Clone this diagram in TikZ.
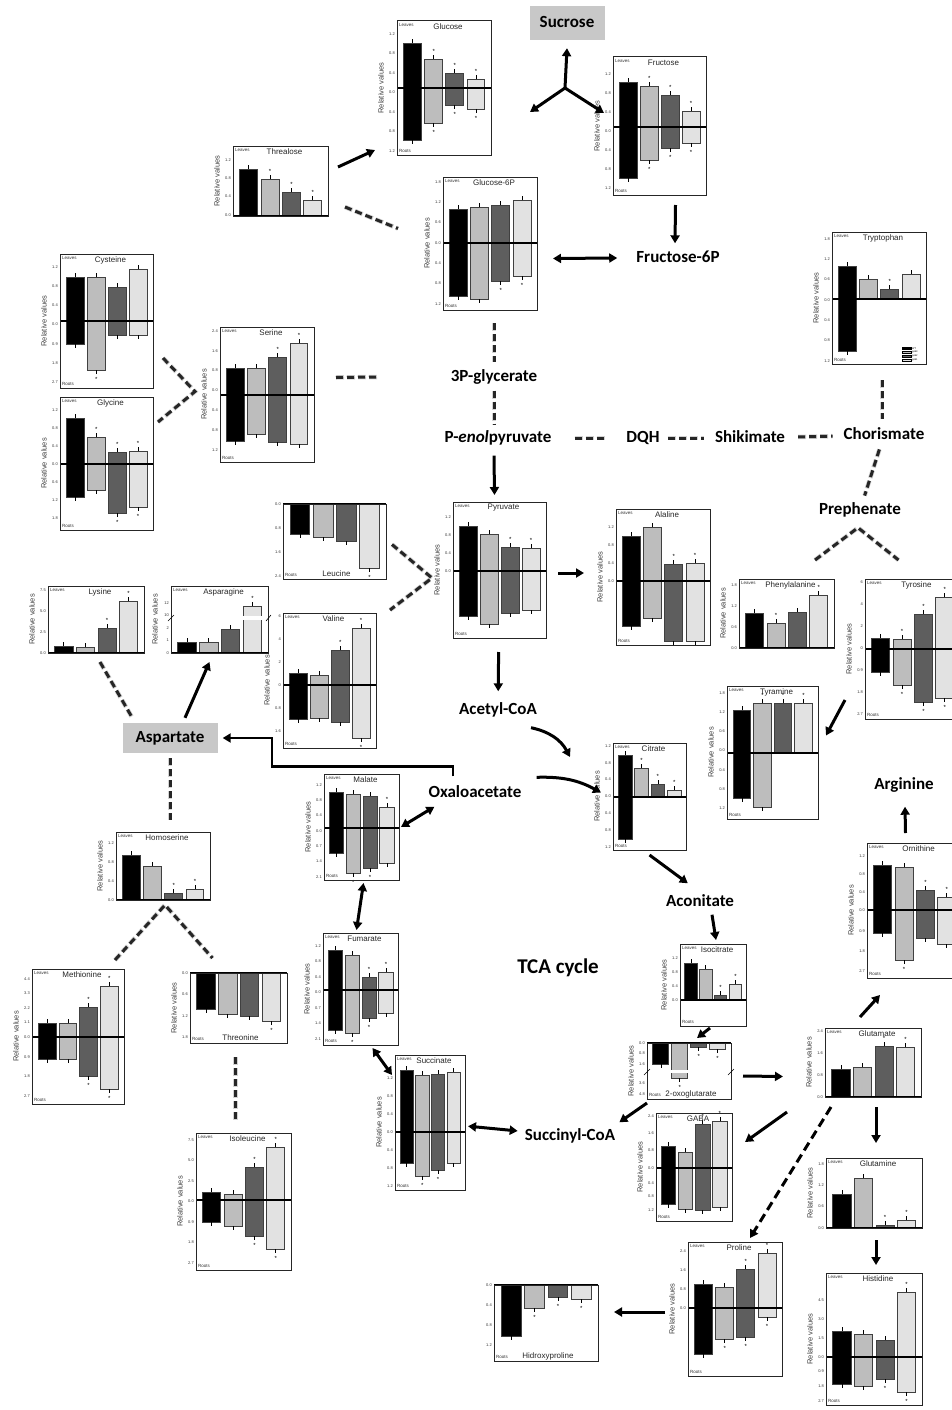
\documentclass[tikz,border=0pt]{standalone}
\usepackage{fontspec}
\setmainfont{Carlito}
\newfontfamily\chartfont{Liberation Sans}
\usetikzlibrary{arrows.meta, calc}

\colorlet{bar1}{black}
\definecolor{bar2}{HTML}{BDBDBD}
\definecolor{bar3}{HTML}{5E5E5E}
\definecolor{bar4}{HTML}{E2E2E2}
\definecolor{hubgray}{HTML}{C8C8C8}

\tikzset{
  chartframe/.style={draw=black!85, line width=1pt, inner sep=0pt, outer sep=0pt},
  barbox/.style={draw=black!75, line width=0.8pt},
  errbar/.style={line width=0.7pt},
  zeroline/.style={line width=1.3pt},
  star/.style={font=\chartfont\fontsize{6}{6}\selectfont, inner sep=0pt},
  tinylab/.style={font=\chartfont\fontsize{4.5}{5}\selectfont, inner sep=0pt, text=black!80},
  ticklab/.style={font=\chartfont\fontsize{4}{4}\selectfont, inner sep=0pt, anchor=east, text=black!80},
  ctitle/.style={font=\chartfont\fontsize{8}{9}\selectfont, inner sep=0pt, text=black!85},
  ylab/.style={font=\chartfont\fontsize{7.5}{8}\selectfont, rotate=90, inner sep=0pt, text=black!75},
  metab/.style={font=\bfseries\fontsize{17}{19}\selectfont, inner sep=1pt, text height=12pt, text depth=3pt},
  hub/.style={metab, fill=hubgray},
  flow/.style={line width=3pt, -{Triangle[length=8pt,width=9pt]}},
  twoway/.style={line width=3pt, {Triangle[length=8pt,width=9pt]}-{Triangle[length=8pt,width=9pt]}},
  bypass/.style={line width=3pt, dash pattern=on 9pt off 5pt, -{Triangle[length=8pt,width=9pt]}},
  pathdash/.style={line width=3pt, draw=black!85, dash pattern=on 7pt off 4pt,
    preaction={draw=gray!35, line width=4.5pt, dash pattern=on 8pt off 3pt}}
}

% mode: 0 leaves+roots, 1 leaves only, 2 roots + title below, 3 as 2 without axis label
\newcommand{\barchart}[9][0]{%
  \foreach \vt/\vb/\vs [count=\k] in {#9}{%
    \pgfmathsetmacro{\xl}{#3+(#5-#3)*(0.07+0.225*(\k-1))}%
    \pgfmathsetmacro{\xr}{\xl+(#5-#3)*0.19}%
    \pgfmathsetmacro{\xc}{(\xl+\xr)/2}%
    \draw[barbox, fill=bar\k] (\xl,\vt) rectangle (\xr,\vb);
    \ifdim\vt pt<#7pt \draw[errbar] ({\xc},{\vt}) -- ({\xc},{\vt-4}); \fi
    \ifdim\vb pt>#7pt \draw[errbar] ({\xc},{\vb}) -- ({\xc},{\vb+4}); \fi
    \ifodd\vs\relax \node[star] at ({\xc},{\vt-8}) {*}; \fi
    \ifnum\vs>1\relax \node[star] at ({\xc},{\vb+9}) {*}; \fi
  }
  \draw[zeroline] (#3,#7) -- (#5,#7);
  \node[chartframe, minimum width={(#5-#3)*1pt}, minimum height={(#6-#4)*1pt}] (#2) at ({(#3+#5)/2},{(#4+#6)/2}) {};
  \ifcase#1\relax
    \node[tinylab, anchor=north west] at ({#3+2},{#4+2}) {Leaves};
    \node[tinylab, anchor=south west] at ({#3+2},{#6-2}) {Roots};
    \node[ctitle] at ({(#3+#5)/2+4},{#4+6}) {#8};
    \node[ylab] at ({#3-16},{(#4+#6)/2}) {Relative values};
  \or
    \node[tinylab, anchor=north west] at ({#3+2},{#4+2}) {Leaves};
    \node[ctitle] at ({(#3+#5)/2+4},{#4+6}) {#8};
    \node[ylab] at ({#3-16},{(#4+#6)/2}) {Relative values};
  \or
    \node[tinylab, anchor=south west] at ({#3+2},{#6-2}) {Roots};
    \node[ctitle] at ({(#3+#5)/2+2},{#6-5}) {#8};
    \node[ylab] at ({#3-16},{(#4+#6)/2}) {Relative values};
  \or
    \node[tinylab, anchor=south west] at ({#3+2},{#6-2}) {Roots};
    \node[ctitle] at ({(#3+#5)/2+2},{#6-5}) {#8};
  \fi
}

% tick labels: x, first y, step, labels
\newcommand{\yticks}[4]{%
  \foreach \lab [count=\k from 0] in {#4}
    \node[ticklab] at ({#1},{#2+\k*#3}) {\lab};
}

\begin{document}
\begin{tikzpicture}[x=1pt, y=-1pt]
\useasboundingbox (0,0) rectangle (952,1410);

% metabolites
\node[hub, minimum width=75pt, minimum height=34pt] (sucrose) at (567,23) {Sucrose};
\node[metab] (fru6p) at (678,258) {Fructose-6P};
\node[metab] (glycerate) at (494,377) {3P-glycerate};
\node[metab] (pep) at (498,438) {P-\textit{enol}pyruvate};
\node[metab] (dqh) at (643,438) {DQH};
\node[metab] (shikimate) at (750,438) {Shikimate};
\node[metab] (chorismate) at (884,435) {Chorismate};
\node[metab] (prephenate) at (860,510) {Prephenate};
\node[metab] (acetylcoa) at (498,710) {Acetyl-CoA};
\node[hub, minimum width=95pt, minimum height=30pt] (aspartate) at (170,738) {Aspartate};
\node[metab] (oxaloacetate) at (475,793) {Oxaloacetate};
\node[metab] (arginine) at (904,785) {Arginine};
\node[metab] (aconitate) at (700,902) {Aconitate};
\node[font=\bfseries\fontsize{21}{24}\selectfont] (tca) at (558,968) {TCA cycle};
\node[metab] (succinylcoa) at (570,1136) {Succinyl-CoA};

% charts
\barchart{glucose}{397}{21}{491}{155}{88}{Glucose}{43/140/0,59/123/3,73/105/3,79/109/3}
\yticks{395}{34}{19.5}{1.2,0.8,0.4,0.0,0.4,0.8,1.2}
\barchart[1]{threalose}{233}{146}{328}{216}{216}{Threalose}{169/216/0,179/216/1,192/216/1,200/216/1}
\yticks{231}{160}{18.3}{1.2,0.8,0.4,0.0}
\barchart{glucosesix}{443}{177}{537}{310}{243}{Glucose-6P}{209/296/0,207/299/0,205/281/2,200/276/2}
\yticks{441}{182}{20.3}{1.8,1.2,0.6,0.0,0.4,0.8,1.2}
\barchart{fructose}{613}{57}{706}{195}{127}{Fructose}{82/178/0,86/160/3,95/148/3,111/143/3}
\yticks{611}{74}{19}{1.2,0.8,0.4,0.0,0.4,0.8,1.2}
\barchart{tryptophan}{832}{232}{926}{364}{299}{Tryptophan}{266/351/0,279/299/0,289/299/1,274/299/0}
\yticks{830}{239}{20.3}{1.8,1.2,0.6,0.0,0.4,0.8,1.2}
\foreach \lab [count=\k] in {WT,gsb3,gsb2,gsb1}{
  \draw[fill=bar\k, line width=0.3pt] (902,{343+\k*4}) rectangle (911,{345.5+\k*4});
  \node[anchor=west, inner sep=0pt, font=\chartfont\fontsize{2.5}{3}\selectfont] at (912,{344.3+\k*4}) {\lab};
}
\barchart{cysteine}{60}{254}{153}{388}{321}{Cysteine}{277/344/0,277/370/2,287/335/0,269/335/0}
\yticks{58}{267}{19.2}{1.2,0.8,0.4,0.0,0.9,1.8,2.7}
\barchart{serine}{220}{327}{314}{462}{395}{Serine}{368/441/0,368/434/0,357/442/1,343/444/1}
\yticks{218}{331}{19.8}{2.4,1.6,0.8,0.0,0.4,0.8,1.2}
\barchart{glycine}{60}{397}{153}{530}{464}{Glycine}{418/497/0,437/490/1,452/513/3,451/507/3}
\yticks{58}{410}{18}{1.2,0.8,0.4,0.0,0.6,1.2,1.8}
\barchart[3]{leucine}{283}{504}{386}{579}{504}{Leucine}{504/534/0,504/537/0,504/541/0,504/568/2}
\yticks{281}{504}{24}{0.0,0.8,1.6,2.4}
\barchart[1]{lysine}{48}{586}{144}{653}{653}{Lysine}{646/653/0,647/653/0,628/653/1,601/653/1}
\yticks{46}{590}{21}{7.5,5.0,2.5,0.0}
\barchart[1]{asparagine}{171}{586}{268}{653}{653}{Asparagine}{642/653/0,642/653/0,629/653/0,606/653/1}
\yticks{169}{603}{12.5}{12,10,2,1,0}
\fill[white] (242,616) rectangle (263,620);
\draw[line width=0.6pt] (168,621) -- (174,615) (266,621) -- (271,615);
\barchart{valine}{283}{613}{376}{748}{685}{Valine}{673/719/0,675/718/0,650/722/1,628/738/3}
\yticks{281}{616}{23}{6,4,2,0,0.8,1.6}
\barchart{pyruvate}{453}{502}{546}{638}{571}{Pyruvate}{526/616/0,534/624/0,547/613/1,548/610/1}
\yticks{451}{517}{18}{1.2,0.8,0.4,0.0}
\barchart{alaline}{616}{509}{710}{645}{581}{Alaline}{536/626/0,527/618/0,564/641/1,563/641/1}
\yticks{614}{527}{18}{1.2,0.8,0.4,0.0}
\barchart[1]{phenylalanine}{739}{579}{834}{648}{648}{Phenylalanine}{613/648/0,623/648/1,612/648/0,595/648/1}
\yticks{737}{585}{21}{1.8,1.2,0.6,0.0}
\barchart{tyrosine}{865}{579}{960}{719}{649}{Tyrosine}{638/672/0,639/685/3,614/702/3,597/698/3}
\yticks{863}{582}{22}{6,4,2,0,0.9,1.8,2.7}
\barchart{tyramine}{727}{686}{818}{819}{753}{Tyramine}{710/798/0,703/807/1,703/753/1,703/753/1}
\yticks{725}{693}{19.2}{1.8,1.2,0.6,0.0,0.4,0.8,1.2}
\barchart{citrate}{613}{743}{686}{850}{797}{Citrate}{755/839/0,768/797/1,784/797/1,790/797/1}
\yticks{611}{746}{16.8}{1.2,0.8,0.4,0.0,0.4,0.8,1.2}
\barchart{malate}{324}{774}{399}{880}{828}{Malate}{792/853/0,794/873/2,796/868/2,807/863/1}
\yticks{322}{785}{15.3}{1.2,0.8,0.4,0.0,0.7,1.4,2.1}
\barchart[1]{homoserine}{116}{832}{210}{900}{900}{Homoserine}{855/900/0,866/900/0,893/900/1,889/900/1}
\yticks{114}{843}{19}{1.2,0.8,0.4,0.0}
\barchart{fumarate}{323}{933}{398}{1045}{990}{Fumarate}{950/1030/0,955/1033/2,977/1018/3,972/1013/1}
\yticks{321}{946}{15.5}{1.2,0.8,0.4,0.0,0.7,1.4,2.1}
\barchart{methionine}{32}{969}{124}{1104}{1037}{Methionine}{1023/1059/0,1023/1059/0,1007/1076/3,986/1089/3}
\yticks{30}{979}{14.5}{4.4,3.3,2.2,1.1,0.0}
\yticks{30}{1057}{19.5}{0.9,1.8,2.7}
\barchart[2]{threonine}{190}{973}{287}{1043}{973}{Threonine}{973/1009/0,973/1014/0,973/1016/0,973/1021/2}
\yticks{188}{973}{21.3}{0.0,0.6,1.2,1.8}
\barchart{isoleucine}{196}{1133}{291}{1270}{1200}{Isoleucine}{1192/1222/0,1194/1226/0,1167/1236/3,1147/1249/3}
\yticks{194}{1140}{20.5}{7.5,5.0,2.5,0.0,0.9,1.8,2.7}
\barchart{succinate}{395}{1055}{465}{1190}{1132}{Succinate}{1070/1163/0,1075/1176/2,1074/1170/2,1072/1163/0}
\yticks{393}{1078}{18}{1.2,0.8,0.4,0.0,0.4,0.8,1.2}
\barchart{isocitrate}{680}{944}{746}{1026}{1000}{Isocitrate}{963/1000/0,969/1000/0,995/1000/1,984/1000/1}
\yticks{678}{958}{14}{1.2,0.8,0.4,0.0}
\barchart[2]{oxoglutarate}{647}{1043}{731}{1099}{1043}{2-oxoglutarate}{1043/1064/0,1043/1078/2,1043/1047/2,1043/1049/2}
\yticks{645}{1043}{10.5}{0.0,0.8,1.6}
\yticks{645}{1083}{11}{3.6,4.8}
\fill[white] (671,1069.5) rectangle (689,1073);
\draw[line width=0.6pt] (644,1075) -- (650,1069) (728,1075) -- (734,1069);
\barchart{gaba}{656}{1113}{732}{1221}{1168}{GABA}{1146/1204/0,1152/1209/0,1124/1210/1,1121/1207/1}
\yticks{654}{1116}{17.3}{2.4,1.6,0.8,0.0}
\yticks{654}{1183}{13.5}{0.4,0.8,1.2}
\barchart{ornithine}{867}{843}{962}{978}{910}{Ornithine}{865/933/0,867/960/2,890/938/1,897/944/1}
\yticks{865}{856}{18}{1.2,0.8,0.4,0.0}
\yticks{865}{931}{20}{0.9,1.8,2.7}
\barchart[1]{glutamate}{825}{1028}{921}{1097}{1097}{Glutamate}{1069/1097/0,1067/1097/0,1046/1097/1,1047/1097/1}
\yticks{823}{1031}{22}{2.4,1.6,0.8,0.0}
\barchart[1]{glutamine}{826}{1158}{922}{1228}{1228}{Glutamine}{1194/1228/0,1178/1228/0,1225/1228/1,1220/1228/1}
\yticks{824}{1164}{21.3}{1.8,1.2,0.6,0.0}
\barchart{histidine}{826}{1273}{922}{1405}{1357}{Histidine}{1331/1384/0,1334/1386/0,1340/1379/2,1292/1392/3}
\yticks{824}{1300}{19}{4.5,3.0,1.5,0.0}
\yticks{824}{1371}{15}{0.9,1.8,2.7}
\barchart{proline}{688}{1242}{782}{1376}{1308}{Proline}{1284/1354/0,1287/1339/2,1269/1337/3,1253/1317/3}
\yticks{686}{1251}{19}{2.4,1.6,0.8,0.0}
\barchart[3]{hidroxyproline}{494}{1285}{598}{1361}{1285}{Hidroxyproline}{1285/1336/0,1285/1308/2,1285/1297/2,1285/1299/2}
\yticks{492}{1285}{20}{0.0,0.4,0.8,1.2}

% sugars
\coordinate (sucjoin) at (565,88);
\draw[flow] (sucjoin) -- ([yshift=-8]sucrose.south);
\draw[flow] (sucjoin) -- ([xshift=39,yshift=-24]glucose.east);
\draw[flow] (sucjoin) -- ([xshift=-9,yshift=13]fructose.west);
\draw[flow] ([xshift=10,yshift=14]threalose.east) -- ([xshift=-22,yshift=5]glucose.south west);
\draw[pathdash] ([xshift=17,yshift=9]threalose.south east) -- ([xshift=-45,yshift=15]glucosesix.west);
\draw[flow] ([xshift=16,yshift=-10]fructose.south) -- ([xshift=-3,yshift=6]fru6p.north);
\draw[twoway] ([xshift=16,yshift=-15]glucosesix.east) -- ([xshift=-18]fru6p.west);

% glycolysis and amino acids
\draw[pathdash] ([xshift=4,yshift=-13]glucosesix.south) -- ([yshift=6]glycerate.north);
\draw[pathdash] ([yshift=-5]glycerate.south) -- ([xshift=-4,yshift=5]pep.north);
\draw[pathdash] ([xshift=22,yshift=17]serine.east) -- ([xshift=-72]glycerate.west);
\draw[pathdash] ([xshift=10,yshift=30]cysteine.south east) -- ([xshift=-25,yshift=3]serine.west) -- ([xshift=5,yshift=-25]glycine.north east);
\draw[pathdash, shorten <=22pt, shorten >=18pt] (pep) -- (dqh);
\draw[pathdash, shorten <=7pt, shorten >=10pt] (dqh) -- (shikimate);
\draw[pathdash, shorten <=12pt, shorten >=10pt] (shikimate) -- (chorismate);
\draw[pathdash] ([xshift=3,yshift=-16]tryptophan.south) -- ([xshift=-2,yshift=7]chorismate.north);
\draw[pathdash, shorten <=6pt, shorten >=6pt] (chorismate) -- (prephenate);
\draw[pathdash] ([xshift=-19,yshift=19]phenylalanine.north east) -- ([xshift=-2,yshift=-9]prephenate.south) -- ([xshift=-14,yshift=19]tyrosine.north);
\draw[flow] ([xshift=-20,yshift=-51]tyrosine.west) -- ([xshift=8,yshift=17]tyramine.east);
\draw[flow] ([xshift=-4,yshift=-9]pep.south) -- ([xshift=-5,yshift=7]pyruvate.north);
\draw[flow] ([xshift=12,yshift=-3]pyruvate.east) -- ([xshift=-32,yshift=4]alaline.west);
\draw[flow, shorten <=14pt, shorten >=10pt] (pyruvate) -- (acetylcoa);
\draw[pathdash] ([xshift=6,yshift=-3]leucine.east) -- ([xshift=-21,yshift=-8]pyruvate.west) -- ([xshift=14,yshift=3]valine.north east);

% aspartate family
\draw[flow, line width=2.5pt, shorten >=5pt] ([xshift=-22,yshift=8]oxaloacetate.north) -- ++(0,-10) -- ++(-181,0) |- (aspartate.east);
\draw[flow] ([xshift=15,yshift=5]aspartate.north) -- ([xshift=-10,yshift=-9]asparagine.south);
\draw[pathdash] ([xshift=4,yshift=-9]lysine.south) -- ([xshift=10,yshift=5]aspartate.north west);
\draw[pathdash] ([yshift=-5]aspartate.south) -- ([xshift=7,yshift=12]homoserine.north);
\draw[pathdash] ([xshift=-9,yshift=9]methionine.north east) -- ([xshift=2,yshift=-5]homoserine.south) -- ([xshift=-26,yshift=15]threonine.north);
\draw[pathdash] ([xshift=-3,yshift=-14]threonine.south) -- ([xshift=-8,yshift=11]isoleucine.north);

% TCA cycle
\draw[flow] ([xshift=-7,yshift=-9]acetylcoa.south east) to[bend left=25] ([xshift=-43,yshift=-14]citrate.north west);
\draw[flow] ([xshift=14,yshift=7]oxaloacetate.north east) to[bend left=15] ([xshift=-12,yshift=4]citrate.west);
\draw[twoway] ([xshift=2]malate.east) -- ([xshift=7,yshift=-5]oxaloacetate.south west);
\draw[twoway] ([xshift=2,yshift=-3]malate.south) -- ([xshift=-4,yshift=3]fumarate.north);
\draw[twoway] ([xshift=12,yshift=-3]fumarate.south) -- ([xshift=-3,yshift=-20]succinate.north west);
\draw[twoway, shorten <=3pt, shorten >=6pt] (succinate) -- (succinylcoa);
\draw[flow] ([yshift=-5]citrate.south) -- ([xshift=23,yshift=10]aconitate.north west);
\draw[flow] ([xshift=12,yshift=-4]aconitate.south) -- ([xshift=3,yshift=4]isocitrate.north);
\draw[flow] ([xshift=-3,yshift=-2]isocitrate.south) -- ([xshift=8,yshift=5]oxoglutarate.north);
\draw[flow] ([yshift=-4]oxoglutarate.south west) -- ([xshift=3,yshift=5]succinylcoa.north east);

% glutamate family
\draw[flow] ([xshift=12,yshift=-5]oxoglutarate.east) -- ([xshift=-42,yshift=-14]glutamate.west);
\draw[flow] ([xshift=-38,yshift=-15]glutamate.south west) -- ([xshift=13,yshift=25]gaba.east);
\draw[bypass] ([xshift=6,yshift=-10]glutamate.south west) -- ([xshift=15,yshift=4]proline.north);
\draw[flow] ([xshift=-13,yshift=11]glutamate.north) -- ([xshift=13,yshift=-17]ornithine.south west);
\draw[flow] ([xshift=-9,yshift=10]ornithine.north) -- ([xshift=1,yshift=-13]arginine.south);
\draw[flow] ([xshift=3,yshift=-10]glutamate.south) -- ([xshift=2,yshift=15]glutamine.north);
\draw[flow] ([xshift=2,yshift=-12]glutamine.south) -- ([xshift=2,yshift=8]histidine.north);
\draw[flow] ([xshift=-23,yshift=-3]proline.west) -- ([xshift=16,yshift=11]hidroxyproline.east);
\end{tikzpicture}
\end{document}
